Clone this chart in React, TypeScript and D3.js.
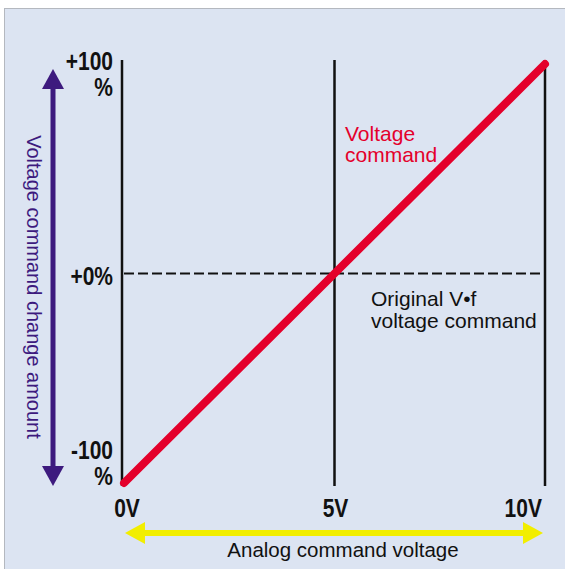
import React, { useEffect, useRef } from 'react';
import * as d3 from 'd3';

const width = 565,
  height = 569;

// analog input (V) -> voltage command change (%)
const voltages = [0, 5, 10];
const changes = [-100, 0, 100];
const xTicks = ['0V', '5V', '10V'];
const yTicks = [
  { v: 100, lines: ['+100', '%'] },
  { v: 0, lines: ['+0%'] },
  { v: -100, lines: ['-100', '%'] },
];

const RED = '#e4002b';
const PURPLE = '#3d1a7e';
const YELLOW = '#f2ee00';
const tickFont = '"Liberation Sans", Arial, sans-serif';
const textFont = '"Liberation Sans", Arial, sans-serif';
const squeeze = 0.84; // condensed look for the bold tick labels

function App() {
  const ref = useRef<SVGSVGElement>(null);

  useEffect(() => {
    const svg = d3.select(ref.current);
    svg.selectAll('*').remove();

    const x = d3.scaleLinear().domain([0, 10]).range([124, 545]);
    const y = d3.scaleLinear().domain([-100, 100]).range([483, 64]);

    // panel background
    svg.append('rect').attr('width', width).attr('height', height).attr('fill', '#fff');
    svg.append('rect')
      .attr('x', 4.5).attr('y', 8.5)
      .attr('width', width).attr('height', height)
      .attr('fill', '#dce4f2')
      .attr('stroke', '#b4b8bf')
      .attr('stroke-width', 1);

    // vertical guide lines
    svg.selectAll('.vline')
      .data(voltages)
      .enter()
      .append('line')
      .attr('x1', (d) => x(d) - (d === 0 ? 2 : 0))
      .attr('x2', (d) => x(d) - (d === 0 ? 2 : 0))
      .attr('y1', y(100) - 4)
      .attr('y2', y(-100) + 3)
      .attr('stroke', '#111')
      .attr('stroke-width', 2.5);

    // dashed reference line
    svg.append('line')
      .attr('x1', x(0)).attr('x2', x(10))
      .attr('y1', y(0)).attr('y2', y(0))
      .attr('stroke', '#111')
      .attr('stroke-width', 2)
      .attr('stroke-dasharray', '10,4');

    // voltage command line
    const line = d3.line<number>()
      .x((d, i) => x(voltages[i]))
      .y((d) => y(d));
    svg.append('path')
      .attr('d', line(changes))
      .attr('fill', 'none')
      .attr('stroke', RED)
      .attr('stroke-width', 8)
      .attr('stroke-linecap', 'round');

    // y tick labels
    const tickBase: Record<number, number> = { 100: 70, 0: 285, [-100]: 459 };
    yTicks.forEach((t) => {
      const txt = svg.append('text')
        .attr('transform', `scale(${squeeze},1)`)
        .attr('text-anchor', 'end')
        .attr('font-family', tickFont)
        .attr('font-weight', 'bold')
        .attr('font-size', 25)
        .attr('fill', '#111');
      const base = tickBase[t.v];
      t.lines.forEach((l, i) => {
        txt.append('tspan').attr('x', 113 / squeeze).attr('y', base + i * 26).text(l);
      });
    });

    // x tick labels
    svg.selectAll('.xtick')
      .data(voltages)
      .enter()
      .append('text')
      .attr('transform', `scale(${squeeze},1)`)
      .attr('x', (d, i) => (i === 2 ? 542 : x(d) + (i === 0 ? 3 : 1)) / squeeze)
      .attr('y', 517)
      .attr('text-anchor', (d, i) => (i === 2 ? 'end' : 'middle'))
      .attr('font-family', tickFont)
      .attr('font-weight', 'bold')
      .attr('font-size', 25)
      .attr('fill', '#111')
      .text((d, i) => xTicks[i]);

    // purple vertical arrow
    const ax = 53;
    svg.append('line')
      .attr('x1', ax).attr('x2', ax)
      .attr('y1', 85).attr('y2', 470)
      .attr('stroke', PURPLE).attr('stroke-width', 5);
    svg.append('path')
      .attr('d', `M${ax},69 L${ax + 11},89 L${ax - 11},89 Z`)
      .attr('fill', PURPLE);
    svg.append('path')
      .attr('d', `M${ax},486 L${ax + 11},466 L${ax - 11},466 Z`)
      .attr('fill', PURPLE);
    svg.append('text')
      .attr('transform', `translate(27,287) rotate(90)`)
      .attr('text-anchor', 'middle')
      .attr('font-family', textFont)
      .attr('font-size', 20)
      .attr('fill', PURPLE)
      .text('Voltage command change amount');

    // yellow horizontal arrow
    const ay = 533;
    svg.append('line')
      .attr('x1', 140).attr('x2', 528)
      .attr('y1', ay).attr('y2', ay)
      .attr('stroke', YELLOW).attr('stroke-width', 6);
    svg.append('path')
      .attr('d', `M125,${ay} L145,${ay - 11} L145,${ay + 11} Z`)
      .attr('fill', YELLOW);
    svg.append('path')
      .attr('d', `M543,${ay} L523,${ay - 11} L523,${ay + 11} Z`)
      .attr('fill', YELLOW);
    svg.append('text')
      .attr('x', 343).attr('y', 557)
      .attr('text-anchor', 'middle')
      .attr('font-family', textFont)
      .attr('font-size', 20.5)
      .attr('fill', '#111')
      .text('Analog command voltage');

    // annotations
    const red = svg.append('text')
      .attr('font-family', textFont)
      .attr('font-size', 21)
      .attr('fill', RED);
    red.append('tspan').attr('x', 345).attr('y', 141).text('Voltage');
    red.append('tspan').attr('x', 345).attr('y', 162).text('command');

    const orig = svg.append('text')
      .attr('font-family', textFont)
      .attr('font-size', 21)
      .attr('fill', '#111');
    orig.append('tspan').attr('x', 371).attr('y', 306).text('Original V•f');
    orig.append('tspan').attr('x', 371).attr('y', 328).text('voltage command');
  }, []);

  return (
    <svg
      ref={ref}
      width={width}
      height={height}
      style={{ position: 'absolute', left: 0, top: 0, display: 'block' }}
    />
  );
}

export default App;
